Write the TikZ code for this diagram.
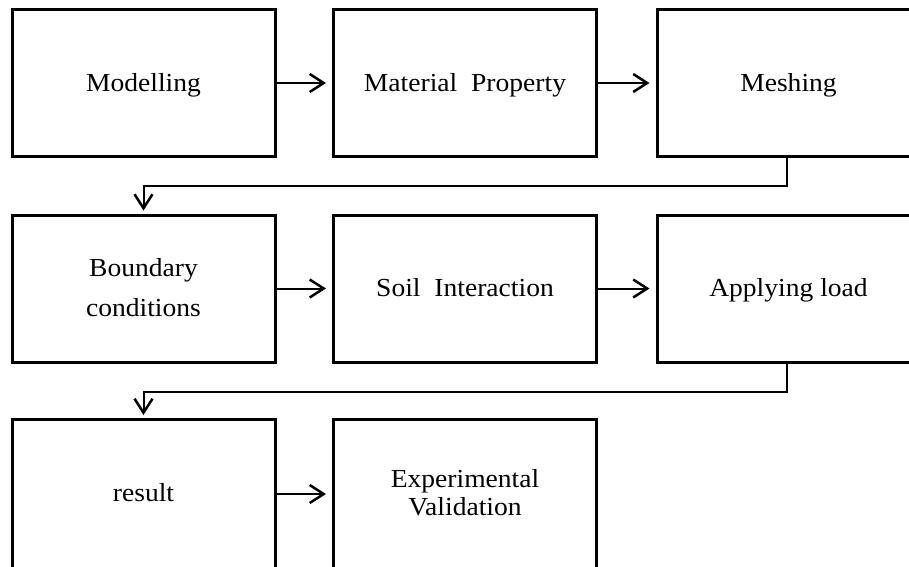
\documentclass[tikz,border=0pt]{standalone}
\usepackage{fontspec}
\setmainfont{Liberation Serif}[FakeStretch=1.06]
\usetikzlibrary{arrows.meta}
\begin{document}
\begin{tikzpicture}[x=1pt,y=-1pt,
  stepbox/.style={draw, line width=3pt, minimum width=263pt, minimum height=147pt, inner sep=0pt},
  txt/.style={anchor=base, inner sep=0pt, font=\fontsize{26}{30}\selectfont},
  link/.style={line width=2pt, -{Straight Barb[length=14pt,width=18pt,line width=2.5pt]}}]
\useasboundingbox (0,0) rectangle (909,566);
\clip (0,0) rectangle (909,566);
% boxes
\node[stepbox] (mod)  at (143.5,83)    {};
\node[stepbox] (mat)  at (465,83)      {};
\node[stepbox] (mesh) at (788.5,83)    {};
\node[stepbox] (bc)   at (143.5,288.5) {};
\node[stepbox] (soil) at (465,288.5)   {};
\node[stepbox] (load) at (788.5,288.5) {};
\node[stepbox, minimum height=149pt] (res) at (143.5,494) {};
\node[stepbox, minimum height=149pt] (exp) at (465,494)   {};
% texts
\node[txt] (modt)  at (143.5,91)  {Modelling};
\node[txt] (matt)  at (465,91)    {Material\ \ Property};
\node[txt] (mesht) at (788.5,91)  {Meshing};
\node[txt] (bct1)  at (143.5,276) {Boundary};
\node[txt] (bct2)  at (143.5,316) {conditions};
\node[txt] (soilt) at (465,296)   {Soil\ \ Interaction};
\node[txt] (loadt) at (788.5,296) {Applying load};
\node[txt] (rest)  at (143.5,501) {result};
\node[txt] (expt1) at (465,487)   {Experimental};
\node[txt] (expt2) at (465,515)   {Validation};
% connectors
\coordinate (k1) at (787,186);
\coordinate (k2) at (787,392);
\draw[link, shorten >=6pt] (mod) -- (mat);
\draw[link, shorten >=6pt] (mat) -- (mesh);
\draw[link, shorten >=6pt] (bc) -- (soil);
\draw[link, shorten >=6pt] (soil) -- (load);
\draw[link, shorten >=6pt] (res) -- (exp);
\draw[link, shorten >=3pt] (mesh.south -| k1) -- (k1) -| (bc.north);
\draw[link, shorten >=3pt] (load.south -| k2) -- (k2) -| (res.north);
\end{tikzpicture}
\end{document}
